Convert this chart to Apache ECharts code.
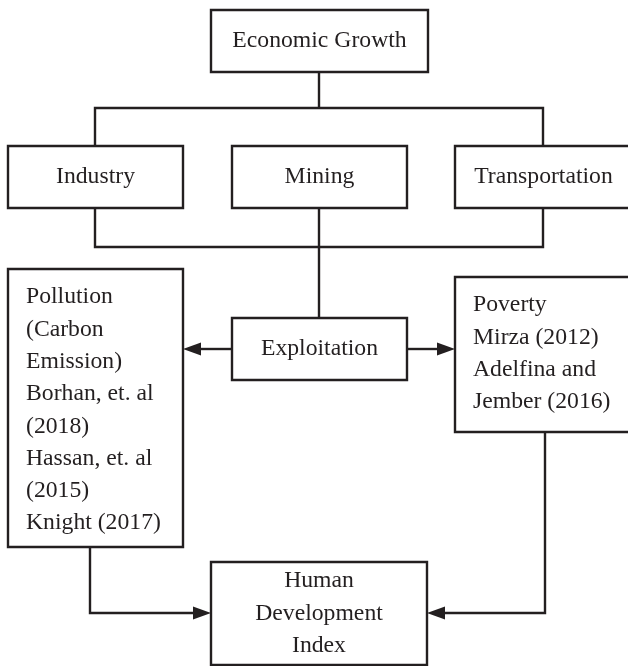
<!DOCTYPE html>
<html>
<head>
<meta charset="utf-8">
<script src="https://cdn.jsdelivr.net/npm/echarts@6/dist/echarts.min.js"></script>
<style>
  html, body { margin: 0; padding: 0; background: #fff; }
  #container { width: 628px; height: 666px; }
</style>
</head>
<body>
<div id="container"></div>
<script type="text/javascript">
// box texts
var boxLabels = [
    'Economic Growth',
    'Industry',
    'Mining',
    'Transportation',
    'Exploitation',
    'Pollution\n(Carbon\nEmission)\nBorhan, et. al\n(2018)\nHassan, et. al\n(2015)\nKnight (2017)',
    'Poverty\nMirza (2012)\nAdelfina and\nJember (2016)',
    'Human\nDevelopment\nIndex'
];
// left aligned boxes (the two literature boxes)
var boxAlignLeft = [false, false, false, false, false, true, true, false];
// box frame: x0, y0, x1, y1 (in page units)
var boxFrames = [
    [211, 10, 428, 72],
    [8, 146, 183, 208],
    [232, 146, 407, 208],
    [455, 146, 632, 208],
    [232, 318, 407, 380],
    [8, 269, 183, 547],
    [455, 277, 632, 432],
    [211, 562, 427, 665]
];
// connectors: polyline points, arrow at end or not
var connectors = [
    [[319, 72], [319, 108]],
    [[95, 146], [95, 108], [543, 108], [543, 146]],
    [[95, 208], [95, 247], [543, 247], [543, 208]],
    [[319, 208], [319, 318]],
    [[232, 349], [183, 349]],
    [[407, 349], [455, 349]],
    [[90, 547], [90, 613], [211, 613]],
    [[545, 432], [545, 613], [427, 613]]
];
var connectorArrow = [false, false, false, false, true, true, true, true];

var ink = '#231f20';
var font = '23.7px "Liberation Serif", "Times New Roman", serif';

var dom = document.getElementById("container");
var myChart = echarts.init(dom);

var boxData = boxFrames.map(function (f, i) {
    return { value: f.concat([i]) };
});
var lineData = connectors.map(function (c, i) {
    return { value: [i] };
});

option = {
    animation: false,
    grid: { left: 0, right: 0, top: 0, bottom: 0 },
    xAxis: { type: 'value', min: 0, max: 628, show: false },
    yAxis: { type: 'value', min: 0, max: 666, inverse: true, show: false },
    series: [
        {
            type: 'custom',
            coordinateSystem: 'cartesian2d',
            clip: false,
            data: lineData,
            renderItem: function (params, api) {
                var i = api.value(0);
                var pts = connectors[i].map(function (p) { return api.coord(p); });
                var children = [];
                var n = pts.length;
                var end = pts[n - 1];
                var linePts = pts.slice();
                if (connectorArrow[i]) {
                    var prev = pts[n - 2];
                    var dx = end[0] - prev[0], dy = end[1] - prev[1];
                    var len = Math.sqrt(dx * dx + dy * dy);
                    var ux = dx / len, uy = dy / len;
                    var al = 18, aw = 6.5;
                    var base = [end[0] - ux * al, end[1] - uy * al];
                    linePts[n - 1] = base;
                    children.push({
                        type: 'polygon',
                        shape: { points: [
                            end,
                            [base[0] - uy * aw, base[1] + ux * aw],
                            [base[0] + uy * aw, base[1] - ux * aw]
                        ] },
                        style: { fill: ink }
                    });
                }
                children.unshift({
                    type: 'polyline',
                    shape: { points: linePts },
                    style: { stroke: ink, lineWidth: 2.4, fill: null }
                });
                return { type: 'group', children: children };
            }
        },
        {
            type: 'custom',
            coordinateSystem: 'cartesian2d',
            clip: false,
            data: boxData,
            renderItem: function (params, api) {
                var i = api.value(4);
                var p0 = api.coord([api.value(0), api.value(1)]);
                var p1 = api.coord([api.value(2), api.value(3)]);
                var text;
                if (boxAlignLeft[i]) {
                    text = {
                        type: 'text',
                        x: p0[0] + 18,
                        y: p0[1] + 12,
                        style: {
                            text: boxLabels[i], font: font, fill: ink,
                            lineHeight: 32.3, align: 'left', verticalAlign: 'top'
                        }
                    };
                } else {
                    text = {
                        type: 'text',
                        x: (p0[0] + p1[0]) / 2,
                        y: (p0[1] + p1[1]) / 2,
                        style: {
                            text: boxLabels[i], font: font, fill: ink,
                            lineHeight: 32.3, align: 'center', verticalAlign: 'middle'
                        }
                    };
                }
                return {
                    type: 'group',
                    children: [
                        {
                            type: 'rect',
                            shape: { x: p0[0], y: p0[1], width: p1[0] - p0[0], height: p1[1] - p0[1] },
                            style: { fill: '#fff', stroke: ink, lineWidth: 2.4 }
                        },
                        text
                    ]
                };
            }
        }
    ]
};
if (option && typeof option === "object") {
    myChart.setOption(option, true);
}
</script>
</body>
</html>
